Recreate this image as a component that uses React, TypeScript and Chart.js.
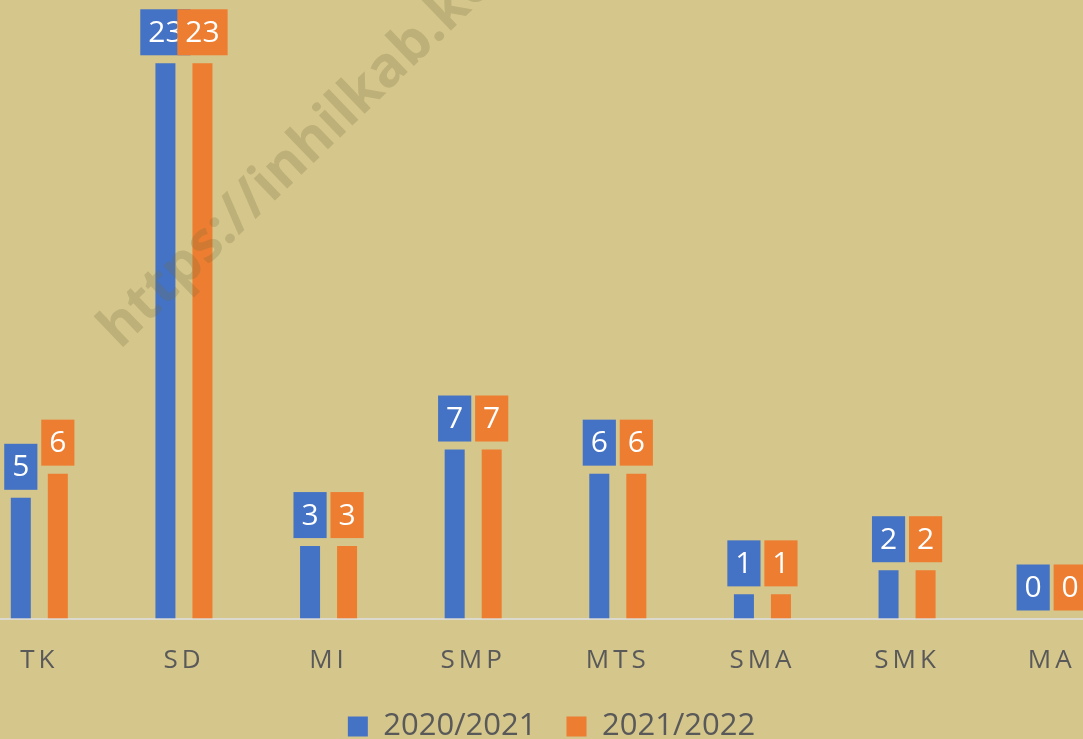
import React, { useEffect, useRef } from "react";
import { Chart, registerables } from "chart.js";

Chart.register(...registerables);

const categories = ["TK", "SD", "MI", "SMP", "MTS", "SMA", "SMK", "MA"];
const seriesNames = ["2020/2021", "2021/2022"];
const values2020 = [5, 23, 3, 7, 6, 1, 2, 0];
const values2021 = [6, 23, 3, 7, 6, 1, 2, 0];
const seriesColors = ["#4472C4", "#ED7D31"];
const watermarkText = "https://inhilkab.kemenag.go.id";

const BG = "#D5C68C";
const OFFSET_X = 33;
const CANVAS_W = 1157;
const CANVAS_H = 752;

const bgPlugin = {
  id: "bg",
  beforeDraw(chart: any) {
    const { ctx, width, height } = chart;
    ctx.save();
    ctx.fillStyle = BG;
    ctx.fillRect(0, 0, width, height);
    ctx.restore();
    const sx = chart.scales.x;
    if (sx && !sx.__patched) {
      const orig = sx.drawLabels.bind(sx);
      sx.drawLabels = (area: any) => {
        const c = chart.ctx;
        c.save();
        (c as any).letterSpacing = "4px";
        orig(area);
        c.restore();
      };
      sx.__patched = true;
    }
    const lg = chart.legend;
    if (lg && !lg.__patched) {
      const origDraw = lg.draw.bind(lg);
      lg.draw = (...args: any[]) => {
        const c = chart.ctx;
        c.save();
        c.translate(6, 0);
        origDraw(...args);
        c.restore();
      };
      lg.__patched = true;
    }
  },
};

const labelPlugin = {
  id: "boxLabels",
  afterDatasetsDraw(chart: any) {
    const ctx = chart.ctx;
    ctx.save();
    ctx.font = '30px "Open Sans"';
    ctx.textAlign = "center";
    ctx.textBaseline = "middle";
    chart.data.datasets.forEach((ds: any, di: number) => {
      const meta = chart.getDatasetMeta(di);
      meta.data.forEach((bar: any, i: number) => {
        const text = String(ds.data[i]);
        const w = ctx.measureText(text).width + 16;
        const h = 46;
        const x = bar.x;
        const yb = bar.y - 8;
        ctx.fillStyle = ds.backgroundColor;
        ctx.fillRect(x - w / 2, yb - h, w, h);
        ctx.fillStyle = "#FFFFFF";
        ctx.fillText(text, x, yb - h / 2 + 1);
      });
    });
    ctx.restore();
  },
};

const watermarkPlugin = {
  id: "watermark",
  afterDraw(chart: any) {
    const ctx = chart.ctx;
    ctx.save();
    ctx.translate(120 + OFFSET_X, 350);
    ctx.rotate((-44 * Math.PI) / 180);
    ctx.font = 'bold 56px "Open Sans"';
    ctx.fillStyle = "rgba(120,110,60,0.25)";
    ctx.textBaseline = "alphabetic";
    ctx.fillText(watermarkText, 0, 0);
    ctx.restore();
  },
};

export default function App() {
  const ref = useRef<HTMLCanvasElement>(null);
  useEffect(() => {
    if (!ref.current) return;
    const chart = new Chart(ref.current, {
      type: "bar",
      data: {
        labels: categories,
        datasets: [
          {
            label: seriesNames[0],
            data: values2020,
            backgroundColor: seriesColors[0],
            borderWidth: 0,
            categoryPercentage: 0.512,
            barPercentage: 0.54,
          },
          {
            label: seriesNames[1],
            data: values2021,
            backgroundColor: seriesColors[1],
            borderWidth: 0,
            categoryPercentage: 0.512,
            barPercentage: 0.54,
          },
        ],
      },
      options: {
        responsive: false,
        animation: false,
        layout: { padding: { top: 15, bottom: 0, left: 0, right: 0 } },
        scales: {
          x: {
            grid: { display: false, drawTicks: false },
            border: { display: true, color: "#DCD9CF", width: 2 },
            ticks: {
              color: "#595959",
              font: { family: "Open Sans", size: 26 },
              padding: 26,
            },
            afterFit: (s: any) => {
              s.height = 62.5;
            },
          },
          y: {
            display: false,
            min: 0,
            max: 25,
          },
        },
        plugins: {
          legend: {
            position: "bottom",
            labels: {
              color: "#595959",
              font: { family: "Open Sans", size: 31 },
              boxWidth: 20,
              boxHeight: 20,
              padding: 30,
            },
          },
          tooltip: { enabled: false },
        },
      },
      plugins: [bgPlugin, labelPlugin, watermarkPlugin],
    });
    return () => chart.destroy();
  }, []);
  return (
    <div
      style={{
        position: "fixed",
        left: -OFFSET_X,
        top: 0,
        width: CANVAS_W,
        height: CANVAS_H,
        overflow: "hidden",
        background: BG,
      }}
    >
      <canvas ref={ref} width={CANVAS_W} height={CANVAS_H} style={{ display: "block" }} />
    </div>
  );
}
